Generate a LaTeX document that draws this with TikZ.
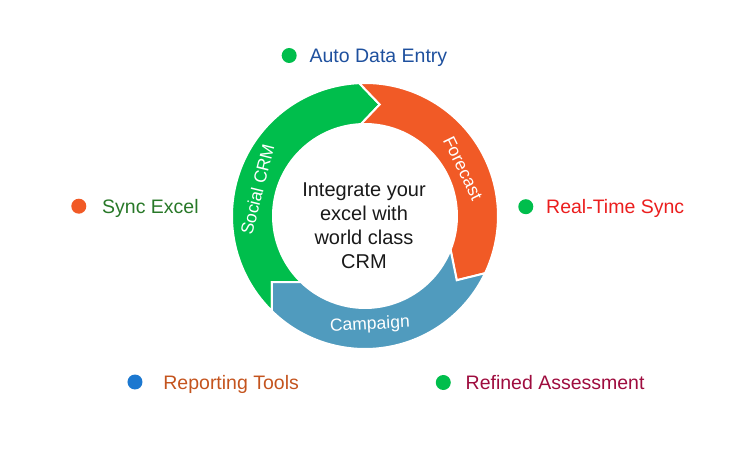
\documentclass[tikz,border=0pt]{standalone}
\usepackage{fontspec}
\setmainfont{Liberation Sans}
\usetikzlibrary{positioning}

\definecolor{ringgreen}{RGB}{0,190,76}
\definecolor{ringorange}{RGB}{241,90,38}
\definecolor{ringblue}{RGB}{80,155,190}
\definecolor{dotblue}{RGB}{28,120,208}
\definecolor{entryblue}{RGB}{30,80,158}
\definecolor{excelgreen}{RGB}{40,120,40}
\definecolor{syncred}{RGB}{235,30,30}
\definecolor{reportorange}{RGB}{196,84,30}
\definecolor{refinedred}{RGB}{158,12,62}

\begin{document}
\begin{tikzpicture}[x=1pt,y=1pt,
    seg/.style={draw=white,line width=2pt,line join=miter},
    dot/.style={circle,inner sep=0pt,minimum size=15pt},
    item/.style={font=\fontsize{19.5}{24}\selectfont,inner sep=0pt,
      text height=14pt,text depth=0pt},
    ringtext/.style={text=white,font=\fontsize{17.5}{20}\selectfont}]
    \useasboundingbox (-365,-234) rectangle (375,216);

    \fill[ringgreen,seg] (-64.1,-66) -- (-93,-66) -- (-93,-95.08)
      arc[start angle=225.63,end angle=92.5,radius=133] -- (82.5:112.5)
      -- (92.5:92) arc[start angle=92.5,end angle=225.85,radius=92] -- cycle;
    \fill[ringorange,seg] (92.5:133) arc[start angle=92.5,end angle=-25.5,radius=133]
      -- (-35:112) -- (-21.5:92) arc[start angle=-21.5,end angle=92.5,radius=92]
      -- (82.5:112.5) -- cycle;
    \fill[ringblue,seg] (-25.5:133) arc[start angle=-25.5,end angle=-134.37,radius=133]
      -- (-93,-66) -- (-64.1,-66) arc[start angle=-134.15,end angle=-21.5,radius=92]
      -- (-35:112) -- cycle;

    \node[ringtext,rotate=76]  (social)   at (166:111)   {Social CRM};
    \node[ringtext,rotate=-64] (forecast) at (26:109)    {Forecast};
    \node[ringtext,rotate=3]   (campaign) at (-87.4:109) {Campaign};

    \node[align=center,font=\fontsize{20}{24}\selectfont,text=black!90] (hub)
      at (-1,-10) {Integrate your\\excel with\\world class\\CRM};

    \node[dot,fill=ringgreen]  (d1) at (-75.8,160.5) {};
    \node[dot,fill=ringorange] (d2) at (-286.2,9.8)  {};
    \node[dot,fill=ringgreen]  (d3) at (160.8,9.3)   {};
    \node[dot,fill=dotblue]    (d4) at (-230,-166)   {};
    \node[dot,fill=ringgreen]  (d5) at (78.3,-166.5) {};

    \node[item,text=entryblue,right=12.5pt of d1]    (t1) {Auto Data Entry};
    \node[item,text=excelgreen,right=15.5pt of d2]   (t2) {Sync Excel};
    \node[item,text=syncred,right=12.5pt of d3]      (t3) {Real-Time Sync};
    \node[item,text=reportorange,right=20.5pt of d4] (t4) {Reporting Tools};
    \node[item,text=refinedred,right=14.5pt of d5]   (t5) {Refined Assessment};
\end{tikzpicture}
\end{document}
